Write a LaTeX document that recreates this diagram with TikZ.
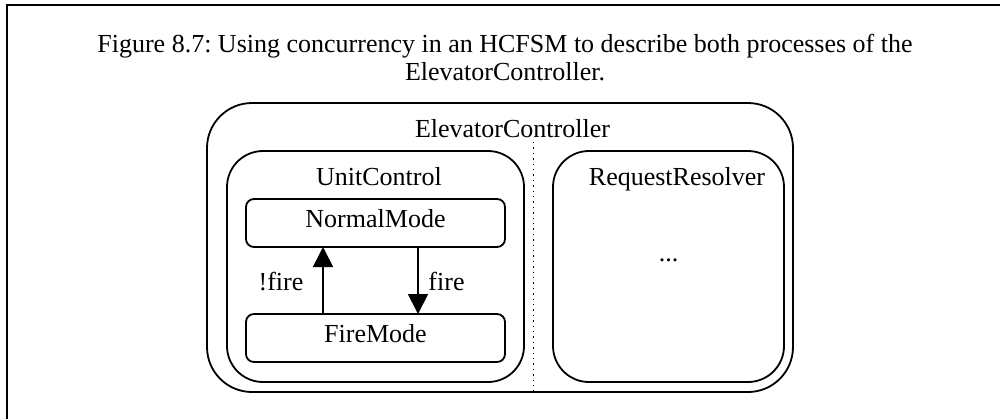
\documentclass[tikz,border=0pt]{standalone}
\usepackage{fontspec}
\setmainfont{Liberation Serif}
\usetikzlibrary{arrows.meta}
\frenchspacing
\begin{document}
\begin{tikzpicture}[x=0.5pt,y=-0.5pt,
  every node/.style={font=\fontsize{13pt}{14pt}\selectfont, inner sep=0pt, outer sep=0pt},
  frameline/.style={line width=1.1pt},
  region/.style={draw, line width=0.9pt, rounded corners=#1},
  statebox/.style={draw, line width=0.9pt, rounded corners=4pt, minimum width=129.5pt, minimum height=24pt, text height=7pt, text depth=3pt},
  trans/.style={line width=0.9pt, -{Triangle[length=10pt,width=10pt]}},
  sep/.style={line width=0.7pt, dotted}
]
\useasboundingbox (0,0) rectangle (1000,419);
% page frame (cut at right and bottom)
\draw[frameline] (7,419) -- (7,5) -- (1000,5);
% caption
\node[anchor=north, align=center] (caption) at (505,34) {Figure 8.7: Using concurrency in an HCFSM to describe both processes of the\\ElevatorController.};
% outer state
\node[region=22.5pt, minimum width=293pt, minimum height=144.5pt] (ec) at (500,247.5) {};
\node[anchor=base] (eclabel) at (512.5,137) {ElevatorController};
\coordinate (septop) at (533.5,142);
\draw[sep] (septop) -- (septop |- ec.south);
% UnitControl
\node[region=18pt, minimum width=148.5pt, minimum height=115.5pt] (uc) at (375.5,266.5) {};
\node[anchor=base] (uclabel) at (379,185) {UnitControl};
% RequestResolver
\node[region=18pt, minimum width=115.5pt, minimum height=115.5pt] (rr) at (668.5,266.5) {};
\node[anchor=base] (rrlabel) at (677,185) {RequestResolver};
\node[anchor=base] (dots) at (668.5,261) {...};
% states
\node[statebox] (nm) at (375.5,223) {NormalMode};
\node[statebox] (fm) at (375.5,338) {FireMode};
% transitions
\coordinate (upx) at (323,0);
\coordinate (downx) at (418,0);
\draw[trans] (fm.north -| upx) -- (nm.south -| upx);
\draw[trans] (nm.south -| downx) -- (fm.north -| downx);
\node[anchor=base] (notfire) at (281,290) {!fire};
\node[anchor=base] (fire) at (446.5,290) {fire};
\end{tikzpicture}
\end{document}
